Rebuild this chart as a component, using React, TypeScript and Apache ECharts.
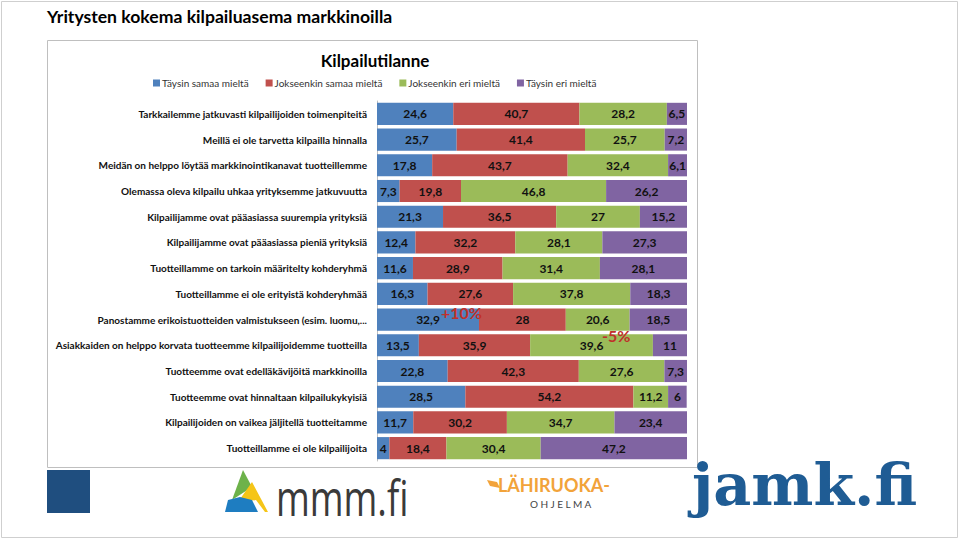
import React, { useEffect, useRef } from "react";
import * as echarts from "echarts";

const categories = [
  "Tarkkailemme jatkuvasti kilpailijoiden toimenpiteitä",
  "Meillä ei ole tarvetta kilpailla hinnalla",
  "Meidän on helppo löytää markkinointikanavat tuotteillemme",
  "Olemassa oleva kilpailu uhkaa yrityksemme jatkuvuutta",
  "Kilpailijamme ovat pääasiassa suurempia yrityksiä",
  "Kilpailijamme ovat pääasiassa pieniä yrityksiä",
  "Tuotteillamme on tarkoin määritelty kohderyhmä",
  "Tuotteillamme ei ole erityistä kohderyhmää",
  "Panostamme erikoistuotteiden valmistukseen (esim. luomu,...",
  "Asiakkaiden on helppo korvata tuotteemme kilpailijoidemme tuotteilla",
  "Tuotteemme ovat edelläkävijöitä markkinoilla",
  "Tuotteemme ovat hinnaltaan kilpailukykyisiä",
  "Kilpailijoiden on vaikea jäljitellä tuotteitamme",
  "Tuotteillamme ei ole kilpailijoita",
];

const seriesNames = [
  "Täysin samaa mieltä",
  "Jokseenkin samaa mieltä",
  "Jokseenkin eri mieltä",
  "Täysin eri mieltä",
];

const taysinSamaa = [24.6, 25.7, 17.8, 7.3, 21.3, 12.4, 11.6, 16.3, 32.9, 13.5, 22.8, 28.5, 11.7, 4];
const jokseenkinSamaa = [40.7, 41.4, 43.7, 19.8, 36.5, 32.2, 28.9, 27.6, 28, 35.9, 42.3, 54.2, 30.2, 18.4];
const jokseenkinEri = [28.2, 25.7, 32.4, 46.8, 27, 28.1, 31.4, 37.8, 20.6, 39.6, 27.6, 11.2, 34.7, 30.4];
const taysinEri = [6.5, 7.2, 6.1, 26.2, 15.2, 27.3, 28.1, 18.3, 18.5, 11, 7.3, 6, 23.4, 47.2];

const colors = ["#4F81BD", "#C0504D", "#9BBB59", "#8064A2"];

const FONT = "Lato, 'Open Sans', sans-serif";

export default function App() {
  const ref = useRef<HTMLDivElement>(null);

  useEffect(() => {
    document.body.style.margin = "0";
    const chart = echarts.init(ref.current!, null, { renderer: "svg" });
    const values = [taysinSamaa, jokseenkinSamaa, jokseenkinEri, taysinEri];

    const series = values.map((arr, i) => ({
      name: seriesNames[i],
      type: "bar",
      stack: "total",
      data: arr,
      barCategoryGap: "14%",
      itemStyle: { color: colors[i] },
      label: {
        show: true,
        position: "inside",
        color: "#111",
        fontFamily: FONT,
        fontWeight: "bold",
        fontSize: 12,
        formatter: (p: any) => String(p.value).replace(".", ","),
      },
    }));

    chart.setOption({
      animation: false,
      backgroundColor: "#ffffff",
      title: {
        text: "Kilpailutilanne",
        left: 370,
        textAlign: "center",
        top: 47,
        textStyle: { fontFamily: FONT, fontWeight: "bold", fontSize: 17, color: "#000" },
      },
      legend: {
        left: 148,
        top: 73,
        itemWidth: 7,
        itemHeight: 7,
        itemGap: 17,
        icon: "rect",
        textStyle: { fontFamily: FONT, fontSize: 10, color: "#333", padding: [0, 0, 0, -3] },
        data: seriesNames,
      },
      grid: { left: 377, right: 273, top: 101, bottom: 79, containLabel: false },
      xAxis: {
        type: "value",
        min: 0,
        max: 100,
        show: false,
      },
      yAxis: {
        type: "category",
        inverse: true,
        data: categories,
        axisLine: { show: true, lineStyle: { color: "#bfbfbf" } },
        axisTick: { show: false },
        axisLabel: { fontFamily: FONT, fontSize: 10, fontWeight: "bold", color: "#111", margin: 10 },
      },
      series,
      graphic: [
        {
          type: "rect",
          shape: { x: 1.5, y: 1.5, width: 956, height: 536 },
          style: { fill: "none", stroke: "#cfcfcf", lineWidth: 1 },
          silent: true,
          z: -10,
        },
        {
          type: "rect",
          shape: { x: 47.5, y: 40.5, width: 650, height: 427 },
          style: { fill: "none", stroke: "#bfbfbf", lineWidth: 1 },
          silent: true,
          z: -10,
        },
        {
          type: "text",
          x: 47,
          y: 7,
          style: {
            text: "Yritysten kokema kilpailuasema markkinoilla",
            fontFamily: FONT,
            fontWeight: "bold",
            fontSize: 17.6,
            fill: "#000",
          },
        },
        {
          type: "text",
          x: 441,
          y: 304,
          style: { text: "+10%", fontFamily: FONT, fontWeight: "bold", fontSize: 16, fill: "#C0302A" },
          z: 100,
        },
        {
          type: "text",
          x: 602,
          y: 327,
          style: { text: "-5%", fontFamily: FONT, fontWeight: "bold", fontSize: 16, fill: "#C0302A" },
          z: 100,
        },
        // blue square
        {
          type: "rect",
          shape: { x: 47, y: 470, width: 43, height: 43 },
          style: { fill: "#1F4E7F" },
        },
        // mmm.fi logo
        {
          type: "polygon",
          shape: { points: [[243, 470], [232, 500], [252, 487]] },
          style: { fill: "#6DB24A" },
        },
        {
          type: "polygon",
          shape: { points: [[252, 482], [238, 502], [256, 500], [265, 512], [268, 512]] },
          style: { fill: "#F5C518" },
        },
        {
          type: "polygon",
          shape: { points: [[225, 512], [228, 500], [240, 497], [252, 500], [258, 512]] },
          style: { fill: "#1E7DC1" },
        },
        {
          type: "text",
          x: 276,
          y: 472,
          scaleX: 0.73,
          style: { text: "mmm.fi", fontFamily: "'Open Sans', sans-serif", fontSize: 50, fill: "#3a3a3a" },
        },
        // Lähiruoka logo
        {
          type: "polygon",
          shape: { points: [[487, 480], [497, 482], [500, 488], [490, 486]] },
          style: { fill: "#F2A33A" },
        },
        {
          type: "text",
          x: 498,
          y: 476,
          style: {
            text: "LÄHIRUOKA-",
            fontFamily: FONT,
            fontWeight: "bold",
            fontSize: 18,
            fill: "#F2A33A",
          },
        },
        {
          type: "text",
          x: 530,
          y: 499,
          style: {
            text: "O H J E L M A",
            fontFamily: FONT,
            fontSize: 10,
            fill: "#444",
          },
        },
        // jamk.fi
        {
          type: "text",
          x: 692,
          y: 457,
          scaleX: 1.03,
          style: {
            text: "jamk.fi",
            fontFamily: "'DejaVu Serif', serif",
            fontWeight: "bold",
            fontSize: 57,
            fill: "#1F5C94",
          },
        },
      ],
    });

    return () => chart.dispose();
  }, []);

  return (
    <div
      ref={ref}
      style={{ position: "fixed", left: 0, top: 0, width: 960, height: 540 }}
    />
  );
}
